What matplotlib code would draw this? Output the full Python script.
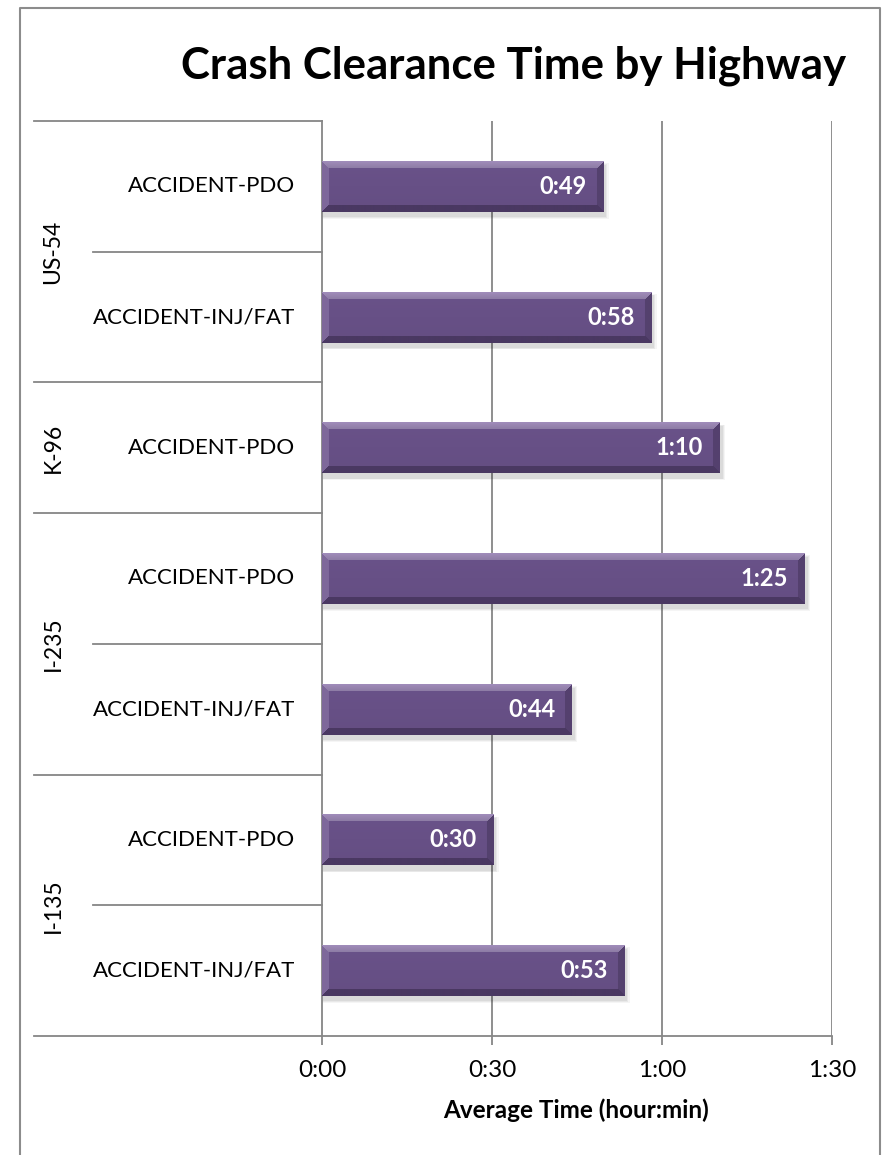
import numpy as np
import matplotlib
matplotlib.use('Agg')
import matplotlib.pyplot as plt
from matplotlib.colors import to_rgb

# data (minutes), top to bottom
highways  = ['US-54', 'US-54', 'K-96', 'I-235', 'I-235', 'I-135', 'I-135']
incidents = ['ACCIDENT-PDO', 'ACCIDENT-INJ/FAT', 'ACCIDENT-PDO', 'ACCIDENT-PDO',
             'ACCIDENT-INJ/FAT', 'ACCIDENT-PDO', 'ACCIDENT-INJ/FAT']
minutes   = [49.6, 58.1, 70.2, 85.2, 44.1, 30.2, 53.3]
xticks    = [0, 30, 60, 90]
xticklabels = ['0:00', '0:30', '1:00', '1:30']

FONT = 'Lato'
GRID = '#868686'
C_MAIN  = '#675086'
C_TOP   = '#A18DBB'
C_LEFT  = '#7E689B'
C_RIGHT = '#54416E'
C_BOT   = '#4A3862'

W, H = 883, 1155
fig = plt.figure(figsize=(W / 100, H / 100), dpi=100)
fig.patch.set_facecolor('white')

# plot area in pixels
px_l, px_r, px_t, px_b = 322, 832, 121, 1036
ax = fig.add_axes([px_l / W, 1 - px_b / H, (px_r - px_l) / W, (px_b - px_t) / H])

n = len(minutes)
ypos = np.arange(n)
bar_h = 0.39
ax.set_xlim(0, 90)
ax.set_ylim(n - 0.5, -0.5)

px_per_min = (px_r - px_l) / 90
px_per_cat = (px_b - px_t) / n

# soft shadows
for k, a in enumerate([0.06, 0.05, 0.04]):
    grow = 0.012 * (k + 1)
    ax.barh(ypos + 0.035, np.array(minutes) + 0.25 + grow * 20, height=bar_h + grow,
            left=0, color='black', alpha=a, zorder=2, linewidth=0)

# bevelled bars
bars = ax.barh(ypos, minutes, height=bar_h, color=C_MAIN, zorder=3, linewidth=0)
bevel = 7.0
for b, v in zip(bars, minutes):
    wpx = int(round(v * px_per_min))
    hpx = int(round(bar_h * px_per_cat))
    yy, xx = np.mgrid[0:hpx, 0:wpx] + 0.5
    d = np.stack([yy, hpx - yy, xx, wpx - xx])
    m = d.min(axis=0)
    face = d.argmin(axis=0)
    img = np.zeros((hpx, wpx, 3))
    img[:] = to_rgb(C_MAIN)
    cols = [C_TOP, C_BOT, C_LEFT, C_RIGHT]
    for f, c in enumerate(cols):
        mask = (face == f) & (m < bevel)
        img[mask] = to_rgb(c)
    # light falloff on the top facet
    topm = (face == 0) & (m < bevel)
    img[topm] = img[topm] * (1 - 0.12 * (yy[topm] / bevel))[:, None]
    shade = 1 + 0.05 * (0.5 - yy / hpx)
    inner = m >= bevel
    img[inner] = np.clip(img[inner] * shade[inner][:, None], 0, 1)
    y0 = b.get_y()
    ax.imshow(img, extent=(0, v, y0 + bar_h, y0), aspect='auto',
              interpolation='bilinear', zorder=4, clip_path=b, clip_on=True)
    b.set_alpha(0)

ax.set_xlim(0, 90)
ax.set_ylim(n - 0.5, -0.5)

# data labels
for y, v in zip(ypos, minutes):
    mm = int(v)
    ax.annotate(f'{mm // 60}:{mm % 60:02d}', xy=(v, y), xytext=(-12, 0),
                textcoords='offset points', ha='right', va='center',
                color='white', fontsize=17, fontweight='bold', family=FONT, zorder=6)

# grid & axes
for s in ['top', 'right', 'bottom']:
    ax.spines[s].set_visible(False)
ax.spines['left'].set_color(GRID)
ax.spines['left'].set_linewidth(1.3)
for xv in xticks[1:]:
    ax.axvline(xv, color=GRID, lw=1.3, zorder=1)
ax.set_yticks([])
ax.set_xticks(xticks)
ax.set_xticklabels(xticklabels, family=FONT, fontsize=17.5)
ax.tick_params(axis='x', length=6.5, width=1.3, color=GRID, pad=11)

# bottom axis line extended into category area
ax.plot([(34 - px_l) / (px_r - px_l), 1], [0, 0], transform=ax.transAxes,
        color=GRID, lw=1.3, clip_on=False, zorder=5)

# category axis: separators and labels
bt = ax.get_yaxis_transform()
x_group = (34 - px_l) / (px_r - px_l)
x_inner = (93 - px_l) / (px_r - px_l)
x_cat = (295 - px_l) / (px_r - px_l)
x_grp_lbl = (53 - px_l) / (px_r - px_l)

groups = []
for i, h in enumerate(highways):
    if not groups or groups[-1][0] != h:
        groups.append([h, i, i])
    else:
        groups[-1][2] = i

for h, i0, i1 in groups:
    ax.plot([x_group, 0], [i0 - 0.5, i0 - 0.5], transform=bt, color=GRID,
            lw=1.3, clip_on=False)
    for k in range(i0 + 1, i1 + 1):
        ax.plot([x_inner, 0], [k - 0.5, k - 0.5], transform=bt, color=GRID,
                lw=1.3, clip_on=False)
    ax.text(x_grp_lbl, (i0 + i1) / 2, h, transform=bt, rotation=90,
            ha='center', va='center', fontsize=16.5, family=FONT)

for y, lab in zip(ypos, incidents):
    ax.text(x_cat, y, lab, transform=bt, ha='right', va='center',
            fontsize=16, family=FONT)

# titles
fig.text(514 / W, 1 - 79 / H, 'Crash Clearance Time by Highway', ha='center',
         va='baseline', fontsize=31.5, fontweight='bold', family=FONT)
fig.text(576 / W, 1 - 1118 / H, 'Average Time (hour:min)', ha='center',
         va='baseline', fontsize=17.5, fontweight='bold', family=FONT)

# outer chart frame (bottom edge cropped)
fig.add_artist(plt.Line2D([20 / W, 20 / W, 880 / W, 880 / W],
                          [0, 1 - 8 / H, 1 - 8 / H, 0],
                          color='#8C8C8C', lw=1.5))

fig.savefig('out.png', dpi=100, facecolor='white')
